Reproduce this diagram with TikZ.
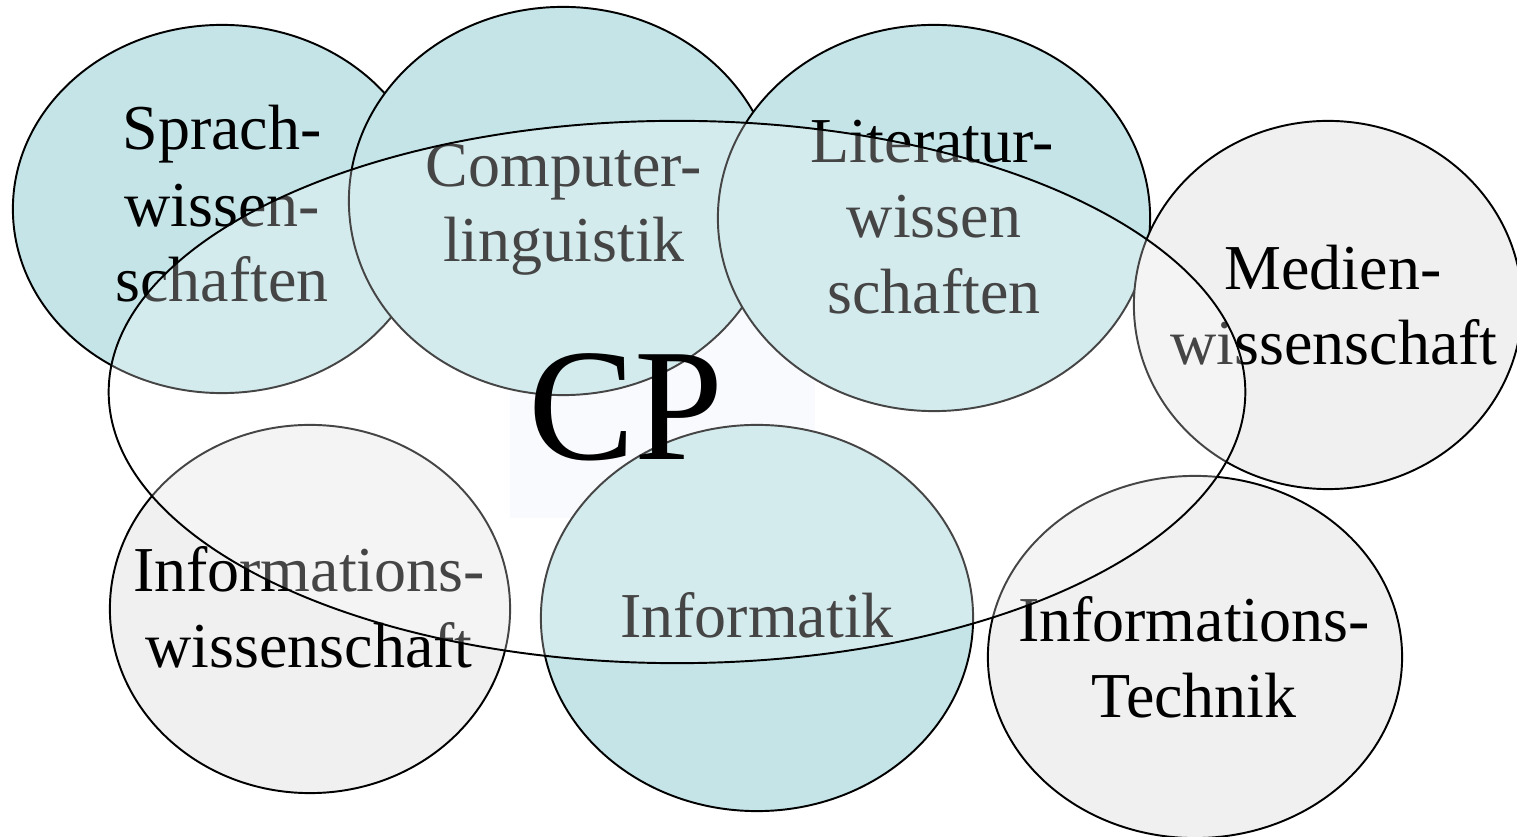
\documentclass[tikz,border=0pt]{standalone}
\usepackage{fontspec}
\setmainfont{Liberation Serif}
\usetikzlibrary{shapes.geometric}

\definecolor{fieldteal}{HTML}{C5E4E8}
\definecolor{fieldgray}{HTML}{F0F0F0}
\definecolor{cpback}{HTML}{F8F9FD}

\tikzset{
  field/.style={ellipse, draw=black, line width=0.55pt, inner sep=0pt},
  core/.style={field, fill=fieldteal},
  side/.style={field, fill=fieldgray},
  lbl/.style={anchor=base, inner sep=0pt, font=\fontsize{18.2}{21.6}\selectfont},
  cpzone/.style={ellipse, draw=black, line width=0.55pt, inner sep=0pt,
                 fill=white, fill opacity=0.27},
}

\begin{document}
\begin{tikzpicture}[x=0.01cm, y=-0.01cm]
\clip (0,0) rectangle (1517,837);

% pale panel behind the CP label
\fill[cpback] (510,310) rectangle (815,518);

% disciplines
\node[core, minimum width=4.18cm, minimum height=3.68cm] (sprach) at (222,209) {};
\node[core, minimum width=4.28cm, minimum height=3.88cm] (coli)   at (563,201) {};
\node[core, minimum width=4.32cm, minimum height=3.86cm] (lit)    at (934,218) {};
\node[side, minimum width=3.88cm, minimum height=3.68cm] (medien) at (1328,305) {};
\node[side, minimum width=4.00cm, minimum height=3.68cm] (iwiss)  at (310,609) {};
\node[core, minimum width=4.32cm, minimum height=3.86cm] (inf)    at (757,618) {};
\node[side, minimum width=4.14cm, minimum height=3.62cm] (itech)  at (1195,657) {};

% labels
\node[lbl] (sprachA) at (222,150) {Sprach-};
\node[lbl] (sprachB) at (222,227) {wissen-};
\node[lbl] (sprachC) at (222,302) {schaften};

\node[lbl] (coliA) at (564,187) {Computer-};
\node[lbl] (coliB) at (564,262) {linguistik};

\node[lbl] (litA) at (932,163) {Literatur-};
\node[lbl] (litB) at (934,238) {wissen};
\node[lbl] (litC) at (934,314) {schaften};

\node[lbl] (medienA) at (1333,290) {Medien-};
\node[lbl] (medienB) at (1334,365) {wissenschaft};

\node[lbl] (iwissA) at (309,592) {Informations-};
\node[lbl] (iwissB) at (309,668) {wissenschaft};

\node[lbl] (infA) at (757,638) {Informatik};

\node[lbl] (itechA) at (1194,642) {Informations-};
\node[lbl] (itechB) at (1194,718) {Technik};

% the CP region, veiling everything it covers
\node[cpzone, minimum width=11.36cm, minimum height=5.42cm] (cp) at (677,392) {};

\node[anchor=base, inner sep=0pt, font=\fontsize{45.5}{50}\selectfont] (cplabel) at (626,460) {CP};
\end{tikzpicture}
\end{document}
